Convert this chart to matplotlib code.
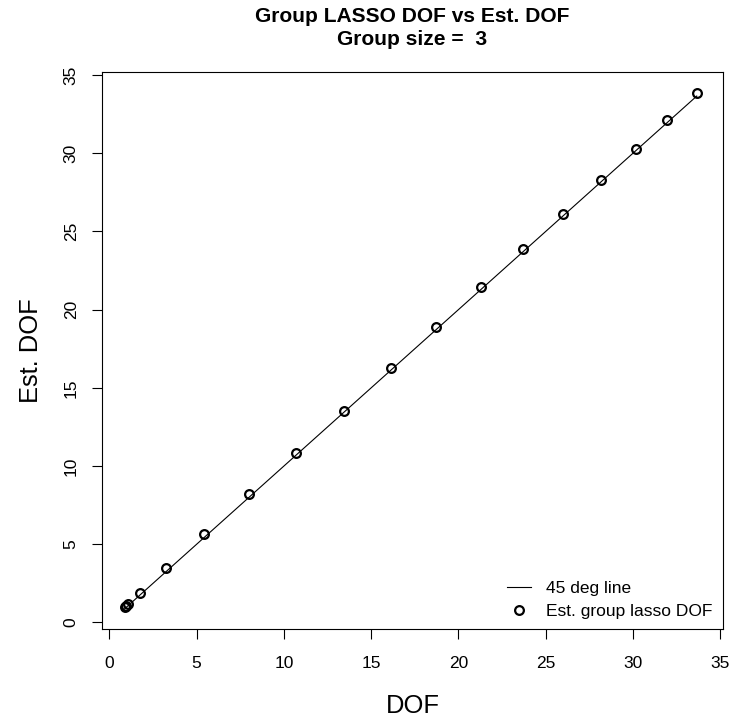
import matplotlib
matplotlib.use("Agg")
import matplotlib.pyplot as plt

plt.rcParams['font.family'] = ['Liberation Sans', 'DejaVu Sans']

# true degrees of freedom and the estimated ones (group size 3)
dof = [0.88, 0.95, 1.06, 1.73, 3.23, 5.42, 7.98, 10.68, 13.43, 16.11,
       18.74, 21.30, 23.72, 25.97, 28.14, 30.16, 31.95, 33.65]
est_dof = [0.96, 1.03, 1.17, 1.91, 3.47, 5.68, 8.21, 10.85, 13.51, 16.25,
           18.89, 21.44, 23.85, 26.13, 28.30, 30.27, 32.12, 33.85]
ticks = [0, 5, 10, 15, 20, 25, 30, 35]
group_size = 3

fig = plt.figure(figsize=(7.30, 7.18), dpi=100)
ax = fig.add_axes([0.1393, 0.1235, 0.8515, 0.7758])

ax.plot(dof, dof, color='black', linewidth=0.8, label='45 deg line')
ax.plot(dof, est_dof, linestyle='none', marker='o', markersize=6.3,
        markerfacecolor='none', markeredgecolor='black', markeredgewidth=1.6,
        label='Est. group lasso DOF')

# R-style limits: data range plus 4% on each side
lo = min(dof + est_dof)
hi = max(dof + est_dof)
pad = 0.04 * (hi - lo)
ax.set_xlim(lo - pad, hi + pad)
ax.set_ylim(lo - pad, hi + pad)

ax.set_xticks(ticks)
ax.set_yticks(ticks)
ax.tick_params(direction='out', length=7.5, width=0.8, labelsize=12.5)
ax.tick_params(axis='x', pad=12)
ax.tick_params(axis='y', pad=9)
for lab in ax.get_yticklabels():
    lab.set_rotation(90)
    lab.set_va('center')

for sp in ax.spines.values():
    sp.set_linewidth(0.8)

ax.set_xlabel('DOF', fontsize=18.4, labelpad=16)
ax.set_ylabel('Est. DOF', fontsize=18.4, labelpad=15)

fig.text(0.565, 1 - 16.7 / 718, 'Group LASSO DOF vs Est. DOF',
         ha='center', va='center', fontsize=15.1, fontweight='bold')
fig.text(0.565, 1 - 39.3 / 718, 'Group size =  %d' % group_size,
         ha='center', va='center', fontsize=15.1, fontweight='bold')

ax.legend(loc='lower right', frameon=False, fontsize=12.5,
          handlelength=1.4, handletextpad=0.9, labelspacing=0.45,
          borderaxespad=0.2)

fig.savefig('out.png', dpi=100)
